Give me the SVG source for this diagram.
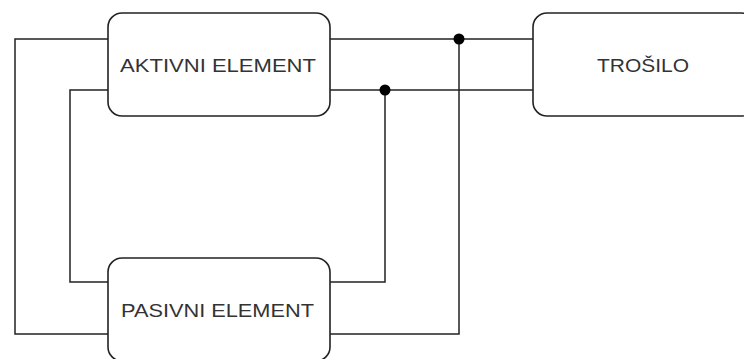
<svg xmlns="http://www.w3.org/2000/svg" width="744" height="359" viewBox="0 0 744 359">
<style>
.box{fill:#fff;stroke:#222;stroke-width:1.6}
.wire{fill:none;stroke:#222;stroke-width:1.5}
.dot{fill:#000}
.lbl{font-family:"Liberation Sans",Arial,sans-serif;font-size:19px;fill:#333;text-anchor:middle}
</style>
<rect width="744" height="359" fill="#fff"/>
<g id="connectors">
<polyline class="wire" points="108,39 15,39 15,334 108,334"/>
<polyline class="wire" points="108,90 70,90 70,282 108,282"/>
<polyline class="wire" points="330,334 459,334 459,39"/>
<polyline class="wire" points="330,282 385,282 385,90"/>
<line class="wire" x1="330" y1="39" x2="533" y2="39"/>
<line class="wire" x1="330" y1="90" x2="533" y2="90"/>
<circle class="dot" cx="459" cy="39" r="5.5"/>
<circle class="dot" cx="385" cy="90" r="5.5"/>
</g>
<g id="aktivni">
<rect class="box" x="108" y="13" width="222" height="103" rx="14"/>
<text class="lbl" x="218" y="71.5" textLength="196" lengthAdjust="spacingAndGlyphs">AKTIVNI ELEMENT</text>
</g>
<g id="pasivni">
<rect class="box" x="108" y="258" width="222" height="103" rx="14"/>
<text class="lbl" x="217.5" y="316.5" textLength="193" lengthAdjust="spacingAndGlyphs">PASIVNI ELEMENT</text>
</g>
<g id="trosilo">
<rect class="box" x="533" y="13" width="222" height="103" rx="14"/>
<text class="lbl" x="643" y="71.5" textLength="92" lengthAdjust="spacingAndGlyphs">TROŠILO</text>
</g>
</svg>
